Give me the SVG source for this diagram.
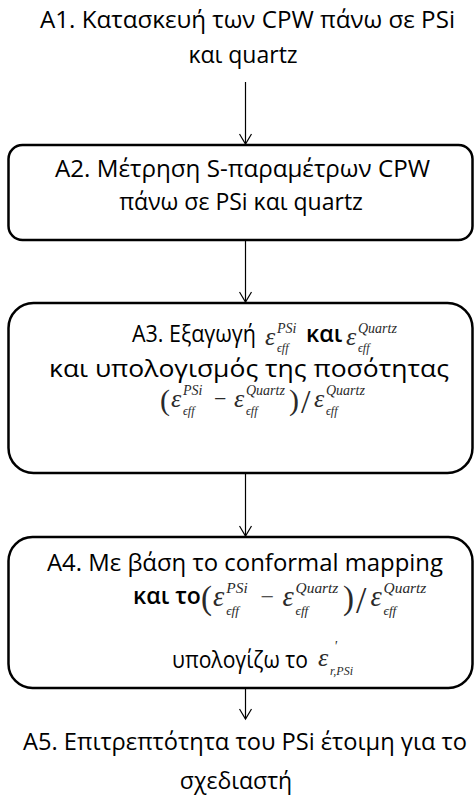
<svg xmlns="http://www.w3.org/2000/svg" width="474" height="801" viewBox="0 0 474 801">
<defs>
<marker id="arr" markerWidth="16" markerHeight="14" refX="7" refY="11" orient="0" markerUnits="userSpaceOnUse">
<path d="M1,1 L7,11 L13,1" fill="none" stroke="#000" stroke-width="1.2"/>
</marker>
<style>
.t{font-family:"Open Sans","Noto Sans",sans-serif;font-size:23px;fill:#000;text-anchor:middle}
.ts{font-family:"Open Sans","Noto Sans",sans-serif;font-size:23px;fill:#000}
.b{font-weight:600}
.box{fill:#fff;stroke:#000;stroke-width:2.5}
.m{font-family:"Liberation Serif","DejaVu Serif",serif;font-style:italic;fill:#2a2a2a}
.e{font-size:26px}
.sp{font-size:14px}
.sb{font-size:12px}
.op{font-family:"Liberation Serif","DejaVu Serif",serif;fill:#2a2a2a}
.c{stroke:#000;stroke-width:1.2;fill:none}
</style>
</defs>
<rect width="474" height="801" fill="#fff"/>
<g id="connectors">
<line class="c" x1="245.5" y1="82" x2="245.5" y2="144" marker-end="url(#arr)"/>
<line class="c" x1="245.5" y1="240" x2="245.5" y2="302" marker-end="url(#arr)"/>
<line class="c" x1="245.5" y1="473" x2="245.5" y2="536" marker-end="url(#arr)"/>
<line class="c" x1="245.5" y1="688" x2="245.5" y2="719" marker-end="url(#arr)"/>
</g>
<g id="A1">
<text class="t" x="247.5" y="28" textLength="415" lengthAdjust="spacingAndGlyphs">A1. Κατασκευή των CPW πάνω σε PSi</text>
<text class="t" x="243" y="63">και quartz</text>
</g>
<g id="A2">
<rect class="box" x="8.5" y="145" width="464" height="95" rx="14"/>
<text class="t" x="242.5" y="177" textLength="375" lengthAdjust="spacingAndGlyphs">A2. Μέτρηση S-παραμέτρων CPW</text>
<text class="t" x="241" y="210">πάνω σε PSi και quartz</text>
</g>
<g id="A3">
<rect class="box" x="8.5" y="303" width="464" height="170" rx="25"/>
<text class="ts" x="132" y="342" textLength="124" lengthAdjust="spacingAndGlyphs">A3. Εξαγωγή</text>
<text class="m e" x="265" y="345">ε</text>
<text class="m sp" x="277" y="333">PSi</text>
<text class="m sb" x="277" y="352">ϵff</text>
<text class="ts b" x="306" y="342">και</text>
<text class="m e" x="346" y="345">ε</text>
<text class="m sp" x="358" y="333">Quartz</text>
<text class="m sb" x="358" y="352">ϵff</text>
<text class="t" x="249" y="377" textLength="400" lengthAdjust="spacingAndGlyphs">και υπολογισμός της ποσότητας</text>
<g id="A3f" transform="translate(160,407)">
<text class="op" x="0" y="3" font-size="30">(</text>
<text class="m e" x="11" y="0">ε</text>
<text class="m sp" x="23" y="-12">PSi</text>
<text class="m sb" x="23" y="8">ϵff</text>
<text class="op" x="54" y="-1" font-size="22">−</text>
<text class="m e" x="74" y="0">ε</text>
<text class="m sp" x="86" y="-12">Quartz</text>
<text class="m sb" x="86" y="8">ϵff</text>
<text class="op" x="129" y="3" font-size="30">)</text>
<text class="op" x="141" y="6" font-size="34">/</text>
<text class="m e" x="154" y="0">ε</text>
<text class="m sp" x="166" y="-12">Quartz</text>
<text class="m sb" x="166" y="8">ϵff</text>
</g>
</g>
<g id="A4">
<rect class="box" x="8.5" y="537" width="464" height="151" rx="24"/>
<text class="t" x="245" y="571" textLength="396" lengthAdjust="spacingAndGlyphs">A4. Με βάση το conformal mapping</text>
<text class="ts b" x="133" y="604">και το</text>
<g id="A4f" transform="translate(201,606) scale(1.1)">
<text class="op" x="0" y="3" font-size="30">(</text>
<text class="m e" x="11" y="0">ε</text>
<text class="m sp" x="23" y="-12">PSi</text>
<text class="m sb" x="23" y="8">ϵff</text>
<text class="op" x="54" y="-1" font-size="22">−</text>
<text class="m e" x="74" y="0">ε</text>
<text class="m sp" x="86" y="-12">Quartz</text>
<text class="m sb" x="86" y="8">ϵff</text>
<text class="op" x="129" y="3" font-size="30">)</text>
<text class="op" x="141" y="6" font-size="34">/</text>
<text class="m e" x="154" y="0">ε</text>
<text class="m sp" x="166" y="-12">Quartz</text>
<text class="m sb" x="166" y="8">ϵff</text>
</g>
<text class="ts" x="172" y="668" textLength="136" lengthAdjust="spacingAndGlyphs">υπολογίζω το</text>
<text class="m e" x="318" y="666">ε</text>
<text class="m sp" x="334" y="651">'</text>
<text class="m sb" x="330" y="675">r,PSi</text>
</g>
<g id="A5">
<text class="t" x="245" y="750" textLength="444" lengthAdjust="spacingAndGlyphs">A5. Επιτρεπτότητα του PSi έτοιμη για το</text>
<text class="t" x="236" y="789">σχεδιαστή</text>
</g>
</svg>
